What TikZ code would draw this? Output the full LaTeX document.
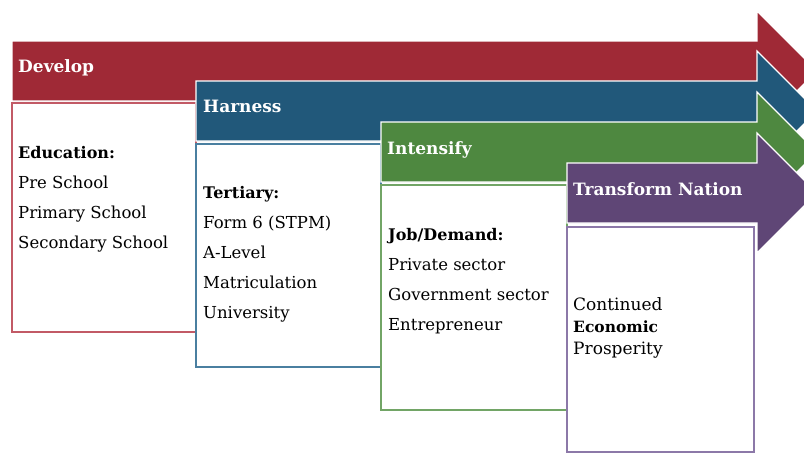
\documentclass[tikz,border=0pt]{standalone}
\usepackage{fontspec}
\newfontfamily\schfont{DejaVu Serif}
\definecolor{cRed}{HTML}{9F2936}
\definecolor{cRedL}{HTML}{C25A66}
\definecolor{cBlue}{HTML}{21587A}
\definecolor{cBlueL}{HTML}{4A7FA0}
\definecolor{cGreen}{HTML}{4E8840}
\definecolor{cGreenL}{HTML}{72A566}
\definecolor{cPurple}{HTML}{5F4676}
\definecolor{cPurpleL}{HTML}{8C78A8}
\newcommand\stagearrow[3]{% left x, top y, colour
  \fill[#3, draw=white, line width=1.2pt]
    (#1,#2) -- (757,#2) -- (757,#2-30) -- (817,#2+30) -- (757,#2+90)
    -- (757,#2+60) -- (#1,#2+60) -- cycle;}
\tikzset{
  box/.style={fill=white, line width=1.5pt},
  ttl/.style={anchor=base west, inner sep=0pt, text=white,
    font=\schfont\bfseries\fontsize{17}{20}\selectfont},
  lbl/.style={anchor=base west, inner sep=0pt,
    font=\schfont\fontsize{16.5}{20}\selectfont},
  hd/.style={lbl, font=\schfont\bfseries\fontsize{16}{20}\selectfont},
  lblp/.style={lbl, font=\schfont\fontsize{17}{20}\selectfont},
  hdp/.style={lbl, font=\schfont\bfseries\fontsize{15.5}{20}\selectfont}
}
\begin{document}
\begin{tikzpicture}[x=1pt,y=-1pt]
\useasboundingbox (0,0) rectangle (804,453);
\clip (0,0) rectangle (804,453);
% Develop
\stagearrow{12}{41}{cRed}
\draw[box, draw=cRedL] (12,103) rectangle (196,332);
\node[ttl] (t1) at (18,72) {Develop};
\node[hd] (h1) at (18,158) {Education:};
\node[lbl] (a1) at (18,188) {Pre School};
\node[lbl] (a2) at (18,218) {Primary School};
\node[lbl] (a3) at (18,248) {Secondary School};
% Harness
\stagearrow{196}{81}{cBlue}
\draw[box, draw=cBlueL] (196,144) rectangle (381,367);
\node[ttl] (t2) at (203,112) {Harness};
\node[hd] (h2) at (203,198) {Tertiary:};
\node[lbl] (b1) at (203,228) {Form 6 (STPM)};
\node[lbl] (b2) at (203,258) {A-Level};
\node[lbl] (b3) at (203,288) {Matriculation};
\node[lbl] (b4) at (203,318) {University};
% Intensify
\stagearrow{381}{122}{cGreen}
\draw[box, draw=cGreenL] (381,185) rectangle (567,410);
\node[ttl] (t3) at (387,154) {Intensify};
\node[hd] (h3) at (388,240) {Job/Demand:};
\node[lbl] (c1) at (388,270) {Private sector};
\node[lbl] (c2) at (388,300) {Government sector};
\node[lbl] (c3) at (388,330) {Entrepreneur};
% Transform Nation
\stagearrow{567}{163}{cPurple}
\draw[box, draw=cPurpleL] (567,227) rectangle (754,452);
\node[ttl] (t4) at (573,195) {Transform Nation};
\node[lblp] (d1) at (573,310) {Continued};
\node[hdp] (d2) at (573,332) {Economic};
\node[lblp] (d3) at (573,354) {Prosperity};
\end{tikzpicture}
\end{document}
